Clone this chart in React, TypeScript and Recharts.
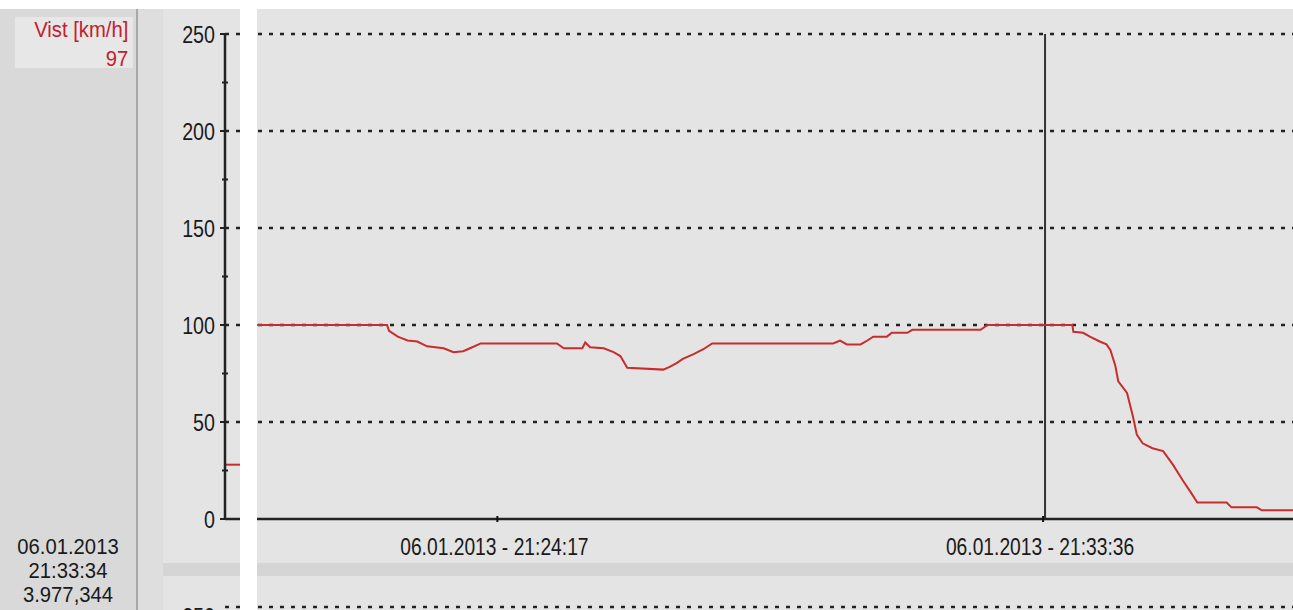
import React from "react";
import { ComposedChart, Line, XAxis, YAxis, ReferenceLine } from "recharts";

const FONT = '"Liberation Sans", Arial, sans-serif';
const SQUEEZE = 0.82;

// time axis: seconds after 21:00:00 on 06.01.2013
const times = [
  1211, 1344, 1346, 1355, 1365, 1375, 1385, 1402, 1412, 1422, 1429, 1440, 1518, 1525, 1544, 1547,
  1552, 1566, 1576, 1583, 1590, 1627, 1634, 1641, 1647, 1658, 1668, 1677, 1801, 1808, 1815, 1829,
  1836, 1842, 1856, 1861, 1877, 1882, 1952, 1959, 2046, 2047, 2057, 2064, 2074, 2081, 2085, 2090,
  2093, 2102, 2108, 2112, 2118, 2128, 2139, 2149, 2159, 2167, 2174, 2204, 2209, 2235, 2240, 2272,
];
// Vist [km/h]
const speeds = [
  100, 100, 97, 94, 92, 91.5, 89, 88, 86, 86.5, 88, 90.5, 90.5, 88, 88, 91,
  88.5, 88, 86, 84, 78, 77, 78.5, 80.5, 82.5, 85, 87.5, 90.5, 90.5, 92, 90, 90,
  92, 94, 94, 96, 96, 97.5, 97.5, 100, 100, 96.5, 96, 94, 91.5, 90, 87, 79,
  71, 65, 53, 43.5, 39, 36.5, 35, 28, 20, 14, 8.5, 8.5, 6, 6, 4.5, 4.5,
];
// piece of the earlier trace left of the gap
const stubTimes = [1179, 1194];
const stubSpeeds = [28, 28];

const xDomain = [1178, 2272];
const xTicks = [1457, 2016];
const cursorTime = 2018;
const yTicks = [0, 25, 50, 75, 100, 125, 150, 175, 200, 225, 250];
const gridValues = [50, 100, 150, 200, 250];
const dateLabel = "06.01.2013";

const cursorDate = "06.01.2013";
const cursorClock = "21:33:34";
const cursorDistance = "3.977,344";
const seriesName = "Vist [km/h]";
const cursorValue = "97";

const mainData = times.map((t, i) => ({ t, v: speeds[i] }));
const stubData = stubTimes.map((t, i) => ({ t, v: stubSpeeds[i] }));

const pad = (n: number) => String(n).padStart(2, "0");
const formatTime = (s: number) => {
  const h = 21 + Math.floor(s / 3600);
  const m = Math.floor((s % 3600) / 60);
  const sec = s % 60;
  return `${dateLabel} - ${pad(h)}:${pad(m)}:${pad(sec)}`;
};

// narrow text, like the old GUI font
const NarrowText = ({ x, y, size, anchor, children }: any) => (
  <text
    transform={`translate(${x},${y}) scale(${SQUEEZE},1)`}
    textAnchor={anchor}
    dominantBaseline="central"
    fontFamily={FONT}
    fontSize={size}
    fill="#1a1a1a"
  >
    {children}
  </text>
);

const YTick = (props: any) => {
  const { x, y, payload } = props;
  const major = payload.value % 50 === 0;
  return (
    <g>
      <line x1={x - (major ? 5 : 3)} x2={x + (major ? 4 : 3)} y1={y} y2={y} stroke="#222" strokeWidth={2} />
      {major && (
        <NarrowText x={x - 10} y={y + 1} size={24} anchor="end">
          {payload.value}
        </NarrowText>
      )}
    </g>
  );
};

const XTick = (props: any) => {
  const { x, y, payload } = props;
  return (
    <g>
      <line x1={x} x2={x} y1={y - 3} y2={y + 3} stroke="#111" strokeWidth={2} />
      <NarrowText x={x - 3} y={y + 28} size={23.5} anchor="middle">
        {formatTime(payload.value)}
      </NarrowText>
    </g>
  );
};

const box = (left: number, top: number, width: number, height: number, background: string): React.CSSProperties => ({
  position: "absolute", left, top, width, height, background,
});

export default function App() {
  return (
    <div style={{ position: "absolute", left: 0, top: 0, width: 1293, height: 610, background: "#fff", overflow: "hidden", fontFamily: FONT }}>
      <div style={box(0, 9, 136, 601, "#d9d9d9")} />
      <div style={box(15, 17, 118, 51, "#e7e7e7")} />
      <div style={box(136, 9, 2, 601, "#a9a9a9")} />
      <div style={box(138, 9, 25, 601, "#dedede")} />
      <div style={box(163, 9, 1130, 554, "#e4e4e4")} />
      <div style={box(163, 563, 1130, 13, "#d5d5d5")} />
      <div style={box(163, 576, 1130, 34, "#e4e4e4")} />

      <div
        style={{
          position: "absolute", right: 1293 - 128, top: 15, color: "#c4202a", fontSize: 22, lineHeight: "29px",
          textAlign: "right", whiteSpace: "nowrap", transform: "scaleX(0.92)", transformOrigin: "right center",
        }}
      >
        {seriesName}
        <br />
        {cursorValue}
      </div>
      <div
        style={{
          position: "absolute", left: 0, width: 136, top: 535, color: "#1a1a1a", fontSize: 22, lineHeight: "24px",
          textAlign: "center", transform: "scaleX(0.92)", transformOrigin: "68px 0",
        }}
      >
        {cursorDate}
        <br />
        {cursorClock}
        <br />
        {cursorDistance}
      </div>

      <svg style={{ position: "absolute", left: 0, top: 0 }} width={1293} height={610}>
        <line x1={225} x2={1293} y1={607} y2={607} stroke="#222" strokeWidth={2.5} strokeDasharray="4 7" />
        <NarrowText x={215} y={617} size={24} anchor="end">250</NarrowText>
      </svg>

      <div style={{ position: "absolute", left: 0, top: 0 }}>
        <ComposedChart width={1293} height={610} margin={{ top: 34, right: 0, bottom: 61, left: 165 }}>
          <XAxis
            type="number"
            dataKey="t"
            domain={xDomain}
            allowDataOverflow
            ticks={xTicks}
            interval={0}
            height={30}
            tickSize={0}
            tickMargin={0}
            tick={<XTick />}
            axisLine={{ stroke: "#222", strokeWidth: 2.5 }}
          />
          <YAxis
            type="number"
            domain={[0, 250]}
            ticks={yTicks}
            interval={0}
            width={60}
            tickSize={0}
            tickMargin={0}
            tick={<YTick />}
            axisLine={{ stroke: "#222", strokeWidth: 2.5 }}
          />
          {gridValues.map((v) => (
            <ReferenceLine key={v} y={v} stroke="#222" strokeWidth={2.5} strokeDasharray="4 7" />
          ))}
          <ReferenceLine x={cursorTime} stroke="#333" strokeWidth={2} />
          <Line data={stubData} dataKey="v" type="linear" stroke="#c92c2c" strokeWidth={2} dot={false} isAnimationActive={false} />
          <Line data={mainData} dataKey="v" type="linear" stroke="#c92c2c" strokeWidth={2} dot={false} isAnimationActive={false} />
        </ComposedChart>
      </div>

      <div style={box(240, 0, 17, 610, "#ffffff")} />
      <div style={box(0, 0, 1293, 9, "#ffffff")} />
    </div>
  );
}
